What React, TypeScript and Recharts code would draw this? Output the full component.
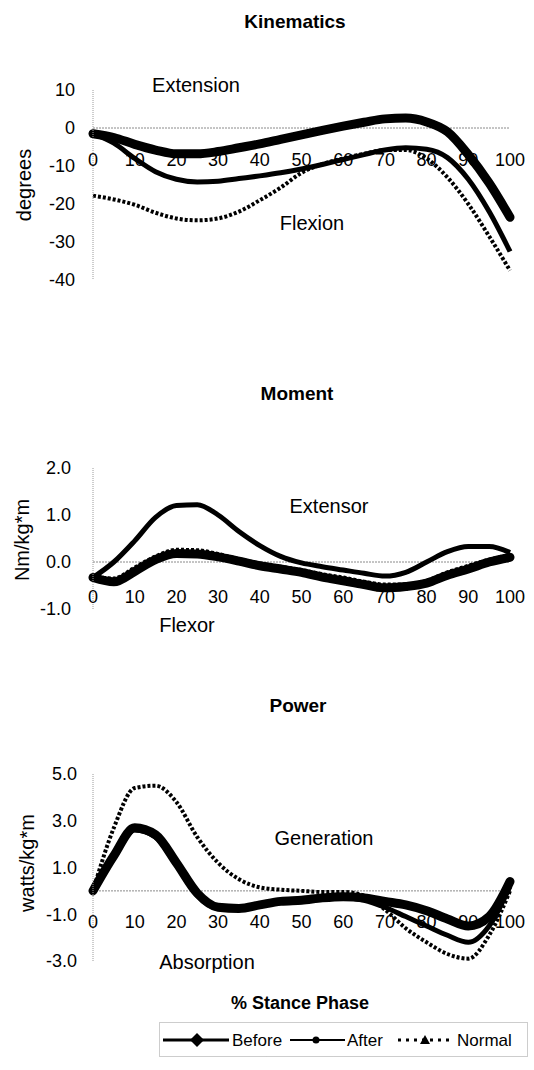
import React from 'react';
import { LineChart, Line, XAxis, YAxis, ReferenceLine } from 'recharts';

const stance = [0, 5, 10, 15, 20, 25, 30, 35, 40, 45, 50, 55, 60, 65, 70, 75, 80, 85, 90, 95, 100];
const xTicks = [0, 10, 20, 30, 40, 50, 60, 70, 80, 90, 100];

// Kinematics (degrees)
const kinBefore = [-1.5, -2.5, -4.3, -5.8, -6.8, -6.8, -6.2, -5.2, -4.2, -3, -1.8, -0.6, 0.5, 1.5, 2.4, 2.6, 1.6, -1, -7, -14.5, -23.5];
const kinAfter = [-1.5, -4, -8, -11.5, -13.5, -14.2, -14, -13.3, -12.6, -11.8, -10.8, -9.6, -8.3, -7, -5.8, -5.2, -5.6, -7.8, -13.5, -22, -32.5];
const kinNormal = [-17.8, -18.8, -20.2, -22.3, -23.8, -24.3, -23.8, -22, -19, -15.7, -11.8, -9.5, -8, -6.8, -5.8, -5.8, -8, -13, -20, -28.5, -37.5];
const kinTicks = [10, 0, -10, -20, -30, -40];

// Moment (Nm/kg*m)
const momBefore = [-0.33, -0.42, -0.2, 0.05, 0.18, 0.17, 0.11, 0.02, -0.08, -0.15, -0.22, -0.32, -0.4, -0.48, -0.55, -0.52, -0.45, -0.28, -0.15, 0, 0.1];
const momAfter = [-0.33, 0, 0.45, 0.95, 1.2, 1.22, 1.0, 0.65, 0.35, 0.12, -0.02, -0.1, -0.17, -0.24, -0.3, -0.22, 0, 0.22, 0.33, 0.33, 0.2];
const momNormal = [-0.3, -0.35, -0.12, 0.12, 0.26, 0.25, 0.17, 0.06, -0.03, -0.1, -0.17, -0.26, -0.33, -0.42, -0.48, -0.48, -0.4, -0.22, -0.08, 0.05, 0.15];
const momTicks = [2, 1, 0, -1];

// Power (watts/kg*m)
const powBefore = [0, 1.5, 2.7, 2.4, 1.2, -0.1, -0.7, -0.75, -0.6, -0.45, -0.4, -0.3, -0.25, -0.3, -0.45, -0.6, -0.85, -1.2, -1.5, -1.1, 0.4];
const powAfter = [0, 1.4, 2.6, 2.3, 1.1, -0.2, -0.75, -0.75, -0.6, -0.5, -0.45, -0.35, -0.3, -0.4, -0.7, -1.1, -1.5, -1.9, -2.2, -1.5, 0.2];
const powNormal = [0, 2.7, 4.4, 4.5, 3.8, 2.3, 1.2, 0.5, 0.15, 0.05, 0, -0.05, -0.05, -0.2, -0.8, -1.6, -2.2, -2.7, -2.9, -1.9, 0];
const powTicks = [5, 3, 1, -1, -3];

const FONT = '"Liberation Sans", Arial, sans-serif';
const ML = 93;
const MR = 24;
const MT = 10;
const XH = 30;
const MB = 10;

const toRows = (b: number[], a: number[], n: number[]) =>
    stance.map((x, i) => ({ x, before: b[i], after: a[i], normal: n[i] }));

interface PanelProps {
    top: number;
    plotH: number;
    domain: [number, number];
    ticks: number[];
    fmt: (v: number) => string;
    rows: { x: number; before: number; after: number; normal: number }[];
    labelGap: number;
    tickMargin: number;
}

const Panel: React.FC<PanelProps> = ({ top, plotH, domain, ticks, fmt, rows, labelGap, tickMargin }) => {
    const [lo, hi] = domain;
    // x labels sit under the zero line, not at the bottom of the plot
    const zeroY = MT + (plotH * hi) / (hi - lo);
    const renderXTick = (p: any) => (
        <text
            x={p.x}
            y={zeroY + labelGap}
            textAnchor="middle"
            dominantBaseline="central"
            fontSize={18}
            fontFamily={FONT}
            fill="#000"
        >
            {p.payload.value}
        </text>
    );
    return (
        <div style={{ position: 'absolute', left: 0, top: top - MT }}>
            <LineChart
                width={534}
                height={MT + plotH + XH + MB}
                data={rows}
                margin={{ top: MT, right: MR, bottom: MB, left: 0 }}
            >
                <XAxis
                    dataKey="x"
                    type="number"
                    domain={[0, 100]}
                    ticks={xTicks}
                    interval={0}
                    axisLine={false}
                    tickLine={false}
                    height={XH}
                    tick={renderXTick}
                />
                <YAxis
                    width={ML}
                    type="number"
                    domain={domain}
                    ticks={ticks}
                    interval={0}
                    tickFormatter={fmt}
                    axisLine={{ stroke: '#9a9a9a', strokeDasharray: '1 1' }}
                    tickLine={false}
                    tickSize={0}
                    tickMargin={tickMargin}
                    tick={{ fontSize: 18, fill: '#000', fontFamily: FONT }}
                />
                <ReferenceLine y={0} stroke="#8a8a8a" strokeDasharray="2 1" />
                <Line
                    dataKey="normal"
                    type="monotone"
                    stroke="#000"
                    strokeWidth={4}
                    strokeDasharray="3 2"
                    dot={false}
                    isAnimationActive={false}
                />
                <Line
                    dataKey="after"
                    type="monotone"
                    stroke="#000"
                    strokeWidth={5}
                    dot={false}
                    isAnimationActive={false}
                />
                <Line
                    dataKey="before"
                    type="monotone"
                    stroke="#000"
                    strokeWidth={9}
                    strokeLinecap="round"
                    dot={false}
                    isAnimationActive={false}
                />
            </LineChart>
        </div>
    );
};

const Txt: React.FC<{ x: number; y: number; size?: number; bold?: boolean; rotate?: boolean; children: React.ReactNode }> = ({
    x,
    y,
    size = 20,
    bold = false,
    rotate = false,
    children
}) => (
    <div
        style={{
            position: 'absolute',
            left: x,
            top: y,
            transform: `translate(-50%, -50%)${rotate ? ' rotate(-90deg)' : ''}`,
            fontFamily: FONT,
            fontSize: size,
            fontWeight: bold ? 'bold' : 'normal',
            color: '#000',
            whiteSpace: 'nowrap',
            lineHeight: 1
        }}
    >
        {children}
    </div>
);

const LegendBox: React.FC = () => (
    <svg style={{ position: 'absolute', left: 159, top: 1022 }} width={369} height={35}>
        <rect x={0.5} y={0.5} width={368} height={34} fill="none" stroke="#9a9a9a" strokeDasharray="1 1" />
        <line x1={4} y1={18} x2={70} y2={18} stroke="#000" strokeWidth={3} />
        <polygon points="38,11 45,18 38,25 31,18" fill="#000" />
        <text x={73} y={18} dominantBaseline="central" fontSize={17} fontFamily={FONT}>Before</text>
        <line x1={131} y1={18} x2={186} y2={18} stroke="#000" strokeWidth={2} />
        <circle cx={157} cy={18} r={3.5} fill="#000" />
        <text x={188} y={18} dominantBaseline="central" fontSize={17} fontFamily={FONT}>After</text>
        <line x1={239} y1={18} x2={294} y2={18} stroke="#000" strokeWidth={3} strokeDasharray="3 5" />
        <polygon points="266,13 271,22 261,22" fill="#000" />
        <text x={298} y={18} dominantBaseline="central" fontSize={17} fontFamily={FONT}>Normal</text>
    </svg>
);

export default function App() {
    return (
        <div style={{ position: 'absolute', left: 0, top: 0, width: 534, height: 1070, background: '#fff', overflow: 'hidden' }}>
            <Txt x={295} y={21} size={19} bold>Kinematics</Txt>
            <Panel
                top={90}
                plotH={190}
                domain={[-40, 10]}
                ticks={kinTicks}
                fmt={(v) => String(v)}
                rows={toRows(kinBefore, kinAfter, kinNormal)}
                labelGap={32}
                tickMargin={18}
            />
            <Txt x={196} y={85}>Extension</Txt>
            <Txt x={312} y={223}>Flexion</Txt>
            <Txt x={24} y={185} rotate>degrees</Txt>

            <Txt x={297} y={393} size={19} bold>Moment</Txt>
            <Panel
                top={468}
                plotH={141}
                domain={[-1, 2]}
                ticks={momTicks}
                fmt={(v) => v.toFixed(1)}
                rows={toRows(momBefore, momAfter, momNormal)}
                labelGap={35}
                tickMargin={22}
            />
            <Txt x={329} y={506}>Extensor</Txt>
            <Txt x={187} y={625}>Flexor</Txt>
            <Txt x={22} y={540} rotate>Nm/kg*m</Txt>

            <Txt x={298} y={705} size={19} bold>Power</Txt>
            <Panel
                top={774}
                plotH={187}
                domain={[-3, 5]}
                ticks={powTicks}
                fmt={(v) => v.toFixed(1)}
                rows={toRows(powBefore, powAfter, powNormal)}
                labelGap={31}
                tickMargin={16}
            />
            <Txt x={324} y={838}>Generation</Txt>
            <Txt x={207} y={962}>Absorption</Txt>
            <Txt x={27} y={863} rotate>watts/kg*m</Txt>

            <Txt x={300} y={1003} size={18} bold>% Stance Phase</Txt>
            <LegendBox />
        </div>
    );
}
